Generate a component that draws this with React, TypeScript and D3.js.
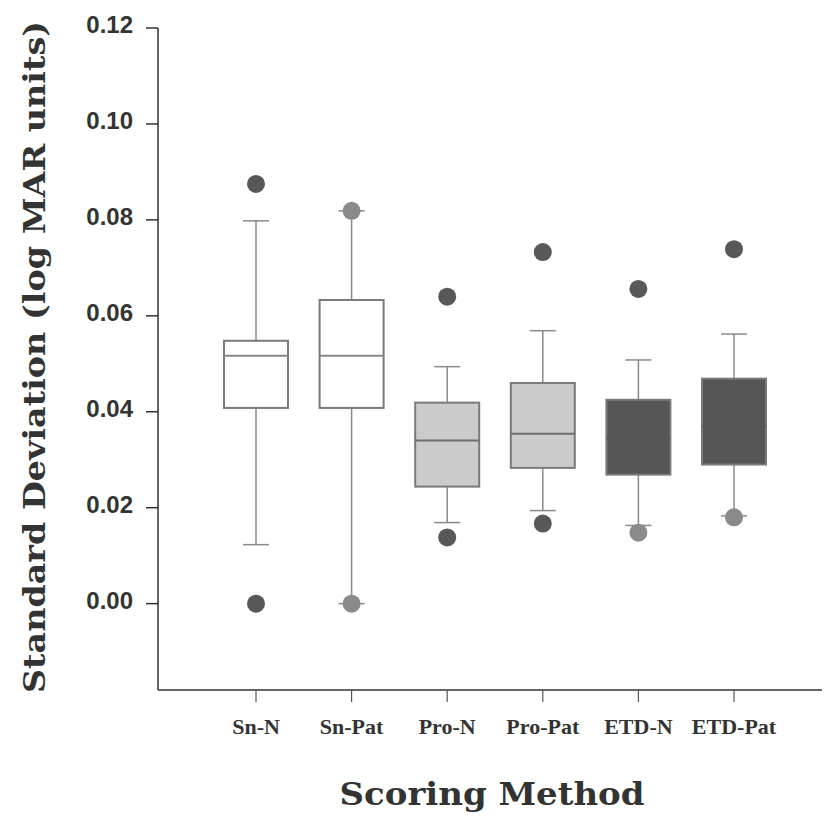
import * as d3 from "d3";

const categories = ["Sn-N", "Sn-Pat", "Pro-N", "Pro-Pat", "ETD-N", "ETD-Pat"];
const q1 = [0.0408, 0.0408, 0.0244, 0.0283, 0.0269, 0.029];
const median = [0.0517, 0.0517, 0.034, 0.0354, 0.0345, 0.037];
const q3 = [0.0548, 0.0633, 0.0419, 0.046, 0.0425, 0.0469];
const whiskerLow = [0.0123, 0.0, 0.0169, 0.0194, 0.0163, 0.0183];
const whiskerHigh = [0.0798, 0.0819, 0.0494, 0.0569, 0.0508, 0.0562];
const outlierHigh = [0.0875, 0.0819, 0.064, 0.0733, 0.0656, 0.0739];
const outlierLow = [0.0, 0.0, 0.0138, 0.0167, 0.0148, 0.018];
const yTicks = [0, 0.02, 0.04, 0.06, 0.08, 0.1, 0.12];

const boxFill = ["#fff", "#fff", "#cbcbcb", "#cbcbcb", "#565656", "#565656"];
const medianColor = ["#888", "#888", "#6e6e6e", "#6e6e6e", "#565656", "#565656"];
const highDot = ["#585858", "#8a8a8a", "#585858", "#585858", "#585858", "#585858"];
const lowDot = ["#585858", "#8a8a8a", "#585858", "#585858", "#8a8a8a", "#8a8a8a"];

export default function App() {
  const width = 825;
  const height = 817;
  const axisX = 158;
  const axisY = 690;

  const y = d3.scaleLinear().domain([-0.018, 0.12]).range([axisY, 28]);
  const x = d3.scalePoint().domain(categories).range([256, 734]);
  const boxW = 64;
  const capW = 26;

  return (
    <svg
      width={width}
      height={height}
      style={{ position: "absolute", left: 0, top: 0, background: "#fff" }}
    >
      {/* axes */}
      <line x1={axisX} x2={axisX} y1={y(0.12)} y2={axisY} stroke="#333" strokeWidth={1.5} />
      <line x1={axisX} x2={822} y1={axisY} y2={axisY} stroke="#333" strokeWidth={1.5} />
      {yTicks.map((t) => (
        <g key={t}>
          <line x1={axisX - 12} x2={axisX} y1={y(t)} y2={y(t)} stroke="#333" strokeWidth={1.5} />
          <text
            x={133}
            y={y(t) - 3.5}
            dy="0.36em"
            textAnchor="end"
            fontFamily="Liberation Sans, Arial, sans-serif"
            fontWeight="bold"
            fontSize={24}
            fill="#333"
          >
            {t.toFixed(2)}
          </text>
        </g>
      ))}
      {categories.map((c) => (
        <g key={c}>
          <line x1={x(c)} x2={x(c)} y1={axisY} y2={axisY + 12} stroke="#555" strokeWidth={1.2} />
          <text
            x={x(c)}
            y={734}
            textAnchor="middle"
            fontFamily="Liberation Serif, Times New Roman, serif"
            fontWeight="bold"
            fontSize={22}
            fill="#333"
          >
            {c}
          </text>
        </g>
      ))}

      {/* boxes */}
      {categories.map((c, i) => {
        const cx = x(c) as number;
        return (
          <g key={c}>
            <line x1={cx} x2={cx} y1={y(whiskerHigh[i])} y2={y(q3[i])} stroke="#8a8a8a" strokeWidth={1.5} />
            <line x1={cx} x2={cx} y1={y(q1[i])} y2={y(whiskerLow[i])} stroke="#8a8a8a" strokeWidth={1.5} />
            <line x1={cx - capW / 2} x2={cx + capW / 2} y1={y(whiskerHigh[i])} y2={y(whiskerHigh[i])} stroke="#8a8a8a" strokeWidth={1.5} />
            <line x1={cx - capW / 2} x2={cx + capW / 2} y1={y(whiskerLow[i])} y2={y(whiskerLow[i])} stroke="#8a8a8a" strokeWidth={1.5} />
            <rect
              x={cx - boxW / 2}
              y={y(q3[i])}
              width={boxW}
              height={y(q1[i]) - y(q3[i])}
              fill={boxFill[i]}
              stroke="#7a7a7a"
              strokeWidth={2}
            />
            <line x1={cx - boxW / 2} x2={cx + boxW / 2} y1={y(median[i])} y2={y(median[i])} stroke={medianColor[i]} strokeWidth={2} />
            <circle cx={cx} cy={y(outlierHigh[i])} r={9} fill={highDot[i]} />
            <circle cx={cx} cy={y(outlierLow[i])} r={9} fill={lowDot[i]} />
          </g>
        );
      })}

      {/* titles */}
      <text
        transform={`translate(45,${357}) rotate(-90)`}
        textAnchor="middle"
        fontFamily="DejaVu Serif, serif"
        fontWeight="bold"
        fontSize={29}
        fill="#333"
        textLength={672}
        lengthAdjust="spacingAndGlyphs"
      >
        Standard Deviation (log MAR units)
      </text>
      <text
        x={492}
        y={805}
        textAnchor="middle"
        fontFamily="DejaVu Serif, serif"
        fontWeight="bold"
        fontSize={31}
        fill="#333"
        textLength={305}
        lengthAdjust="spacingAndGlyphs"
      >
        Scoring Method
      </text>
    </svg>
  );
}
